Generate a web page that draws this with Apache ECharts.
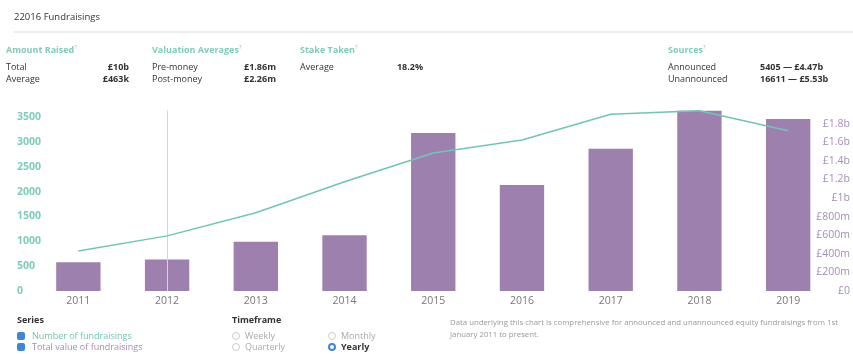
<!DOCTYPE html>
<html>
<head>
<meta charset="utf-8">
<script src="https://cdn.jsdelivr.net/npm/echarts@6/dist/echarts.min.js"></script>
<style>
  html, body { margin:0; padding:0; background:#fff; width:853px; height:354px; overflow:hidden; font-family:"Open Sans", "DejaVu Sans", sans-serif; }
  #chart { position:absolute; left:0; top:0; width:853px; height:354px; }
  .t { position:absolute; white-space:nowrap; line-height:1; }
  .hd { color:#7dcdbb; font-weight:700; font-size:9px; }
  .hd sup { font-size:6px; font-weight:400; }
  .lb { color:#333; font-size:9px; }
  .vl { color:#333; font-size:9px; font-weight:700; }
  .cb { position:absolute; width:8px; height:8px; border-radius:2px; background:#3d87d6; }
  .rd { position:absolute; width:8px; height:8px; border-radius:50%; border:1px solid #ccc; box-sizing:border-box; background:#fff; }
  .rd.on { border:2.5px solid #3d87d6; background:#fff; }
</style>
</head>
<body>
<div id="chart"></div>
<div class="t" style="left:14px;top:12px;font-size:9.5px;color:#333;">22016 Fundraisings</div>
<div style="position:absolute;left:14px;top:31px;width:839px;height:2px;background:#ececec;"></div>

<div class="t hd" style="left:6px;top:44px;">Amount Raised<sup>?</sup></div>
<div class="t lb" style="left:6px;top:62px;">Total</div>
<div class="t vl" style="right:724px;top:62px;">£10b</div>
<div class="t lb" style="left:6px;top:74px;">Average</div>
<div class="t vl" style="right:724px;top:74px;">£463k</div>

<div class="t hd" style="left:152px;top:44px;">Valuation Averages<sup>?</sup></div>
<div class="t lb" style="left:152px;top:62px;">Pre-money</div>
<div class="t vl" style="right:577px;top:62px;">£1.86m</div>
<div class="t lb" style="left:152px;top:74px;">Post-money</div>
<div class="t vl" style="right:577px;top:74px;">£2.26m</div>

<div class="t hd" style="left:300px;top:44px;">Stake Taken<sup>?</sup></div>
<div class="t lb" style="left:300px;top:62px;">Average</div>
<div class="t vl" style="right:430px;top:62px;">18.2%</div>

<div class="t hd" style="left:668px;top:44px;">Sources<sup>?</sup></div>
<div class="t lb" style="left:668px;top:62px;">Announced</div>
<div class="t vl" style="left:760px;top:62px;">5405 — £4.47b</div>
<div class="t lb" style="left:668px;top:74px;">Unannounced</div>
<div class="t vl" style="left:760px;top:74px;">16611 — £5.53b</div>

<div class="t" style="left:17px;top:315px;font-size:9px;font-weight:700;color:#333;">Series</div>
<div class="cb" style="left:17px;top:332px;"></div>
<div class="t" style="left:32px;top:331px;font-size:9px;color:#6cc7b4;">Number of fundraisings</div>
<div class="cb" style="left:17px;top:343px;"></div>
<div class="t" style="left:32px;top:342px;font-size:9px;color:#a68bbb;">Total value of fundraisings</div>

<div class="t" style="left:232px;top:315px;font-size:9px;font-weight:700;color:#333;">Timeframe</div>
<div class="rd" style="left:232px;top:332px;"></div>
<div class="t" style="left:245px;top:331px;font-size:9px;color:#aaa;">Weekly</div>
<div class="rd" style="left:232px;top:343px;"></div>
<div class="t" style="left:245px;top:342px;font-size:9px;color:#aaa;">Quarterly</div>
<div class="rd" style="left:328px;top:332px;"></div>
<div class="t" style="left:341px;top:331px;font-size:9px;color:#aaa;">Monthly</div>
<div class="rd on" style="left:328px;top:343px;"></div>
<div class="t" style="left:341px;top:342px;font-size:9px;color:#333;font-weight:700;">Yearly</div>

<div class="t" style="left:450px;top:319px;font-size:7.8px;color:#999;">Data underlying this chart is comprehensive for announced and unannounced equity fundraisings from 1st</div>
<div class="t" style="left:450px;top:331px;font-size:7.8px;color:#999;">January 2011 to present.</div>

<script>
const years = ['2011','2012','2013','2014','2015','2016','2017','2018','2019'];
const numberOfFundraisings = [805, 1110, 1575, 2200, 2780, 3040, 3560, 3630, 3225];
const totalValueMillions = [310, 340, 530, 600, 1700, 1140, 1530, 1940, 1850];

function fmtMoney(v) {
  if (v === 0) return '£0';
  if (v >= 1000) return '£' + (+(v / 1000).toFixed(1)) + 'b';
  return '£' + v + 'm';
}

const chart = echarts.init(document.getElementById('chart'), null, {renderer: 'canvas'});
chart.setOption({
  animation: false,
  grid: { left: 34, right: 19.5, top: 110.7, bottom: 63 },
  xAxis: {
    type: 'category',
    data: years,
    axisLine: { show: false },
    axisTick: { show: false },
    axisLabel: { color: '#777', fontSize: 10.5, margin: 5, fontFamily: 'Open Sans' }
  },
  yAxis: [
    {
      type: 'value', min: 0, max: 'dataMax', interval: 500,
      splitLine: { show: false }, axisLine: { show: false }, axisTick: { show: false },
      axisLabel: { color: '#7dcdbb', fontWeight: 'bold', fontSize: 10.5, align: 'left', margin: 17, showMaxLabel: false, fontFamily: 'Open Sans', formatter: function (v) { return String(v); } }
    },
    {
      type: 'value', min: 0, max: 'dataMax', interval: 200,
      splitLine: { show: false }, axisLine: { show: false }, axisTick: { show: false },
      axisLabel: { color: '#a98bbb', fontSize: 10.5, align: 'right', margin: 17.5, showMaxLabel: false, fontFamily: 'Open Sans', formatter: fmtMoney }
    }
  ],
  series: [
    {
      name: 'Total value of fundraisings',
      type: 'bar',
      yAxisIndex: 1,
      data: totalValueMillions,
      barWidth: '50%',
      itemStyle: { color: '#9d80ad' },
      markLine: {
        silent: true, symbol: 'none', label: { show: false },
        lineStyle: { color: '#d5d5d5', width: 1, type: 'solid' },
        data: [{ xAxis: '2012' }]
      }
    },
    {
      name: 'Number of fundraisings',
      type: 'line',
      yAxisIndex: 0,
      data: numberOfFundraisings,
      showSymbol: false,
      lineStyle: { color: '#6cc7b4', width: 1.5 },
      itemStyle: { color: '#6cc7b4' },
      z: 5
    }
  ]
});
</script>
</body>
</html>
